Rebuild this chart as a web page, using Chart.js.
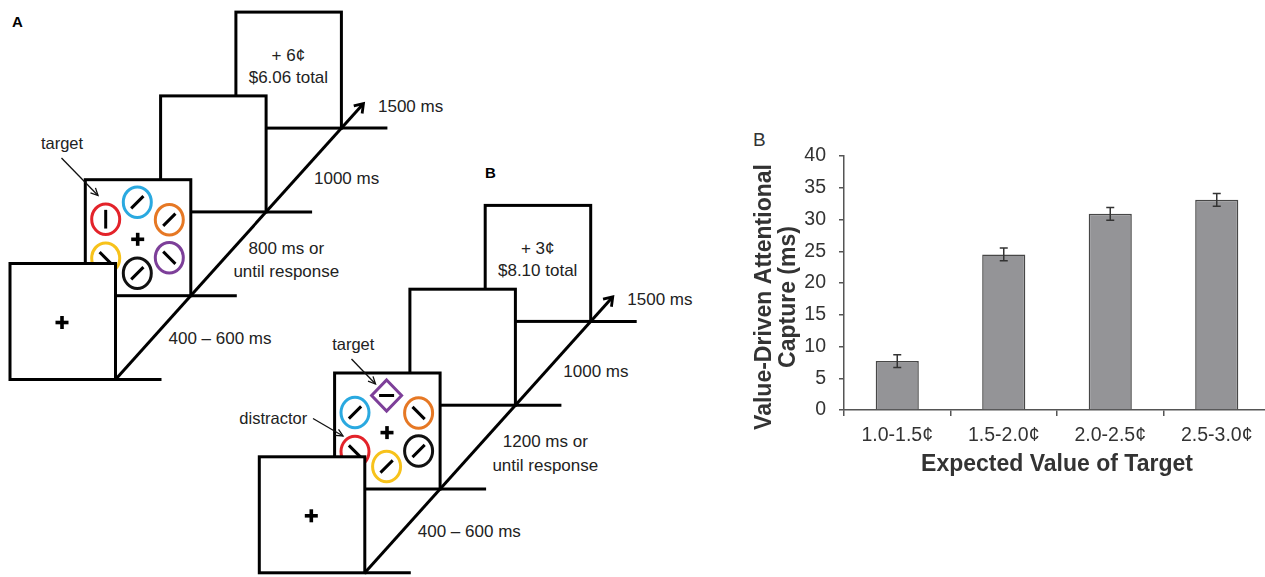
<!DOCTYPE html>
<html>
<head>
<meta charset="utf-8">
<script src="https://cdn.jsdelivr.net/npm/chart.js@4.4.1/dist/chart.umd.min.js"></script>
<style>
  html, body { margin: 0; padding: 0; background: #fff; width: 1265px; height: 577px; overflow: hidden; }
  #diagram { position: absolute; left: 0; top: 0; }
  #chart-wrapper { position: absolute; left: 740px; top: 110px; width: 540px; height: 390px; }
</style>
</head>
<body>
<svg id="diagram" width="1265" height="577"></svg>
<div id="chart-wrapper"><canvas id="captureChart"></canvas></div>
<script>
// chart data
const categories = ['1.0-1.5¢', '1.5-2.0¢', '2.0-2.5¢', '2.5-3.0¢'];
const captureMs = [7.7, 24.5, 30.9, 33.1];
const captureErr = [1.0, 1.0, 1.0, 1.0];
const yTickValues = [0, 5, 10, 15, 20, 25, 30, 35, 40];
const yTitleLines = ['Value-Driven Attentional', 'Capture (ms)'];
const xTitle = 'Expected Value of Target';

const FONT = '"Liberation Sans", Arial, sans-serif';

// ---------- trial diagram (panels A and B) ----------
const NS = 'http://www.w3.org/2000/svg';
const svg = document.getElementById('diagram');

function el(tag, attrs, parent) {
    const e = document.createElementNS(NS, tag);
    for (const k in attrs) e.setAttribute(k, attrs[k]);
    (parent || svg).appendChild(e);
    return e;
}

function label(parent, x, y, str, opts) {
    opts = opts || {};
    const t = el('text', {
        x: x, y: y,
        'font-family': FONT,
        'font-size': opts.size || 17,
        'font-weight': opts.bold ? 'bold' : 'normal',
        'text-anchor': opts.anchor || 'middle',
        'dominant-baseline': 'central',
        fill: opts.color || '#222'
    }, parent);
    t.textContent = str;
    return t;
}

function thinArrow(parent, x1, y1, x2, y2) {
    el('line', { x1: x1, y1: y1, x2: x2, y2: y2, stroke: '#111', 'stroke-width': 1.3 }, parent);
    const a = Math.atan2(y2 - y1, x2 - x1);
    const L = 8, s = 0.45;
    const p1 = [x2 - L * Math.cos(a - s), y2 - L * Math.sin(a - s)];
    const p2 = [x2 - L * Math.cos(a + s), y2 - L * Math.sin(a + s)];
    el('polyline', { points: `${p1} ${x2},${y2} ${p2}`, fill: 'none', stroke: '#111', 'stroke-width': 1.3 }, parent);
}

function cross(parent, cx, cy) {
    el('rect', { x: cx - 6.5, y: cy - 1.8, width: 13, height: 3.6, fill: '#000' }, parent);
    el('rect', { x: cx - 1.8, y: cy - 6.5, width: 3.6, height: 13, fill: '#000' }, parent);
}

const COLORS = { red: '#e3232a', blue: '#2aa9e0', orange: '#e67824', yellow: '#f7c21b', purple: '#7d3f99', black: '#111' };

function stimulus(parent, cx, cy, shape, color, bar) {
    if (shape === 'diamond') {
        el('polygon', { points: `${cx},${cy - 15.5} ${cx + 15},${cy} ${cx},${cy + 15.5} ${cx - 15},${cy}`,
            fill: 'none', stroke: COLORS[color], 'stroke-width': 3 }, parent);
    } else {
        el('ellipse', { cx: cx, cy: cy, rx: 14, ry: 15.3, fill: 'none', stroke: COLORS[color], 'stroke-width': 3 }, parent);
    }
    const h = 8.5;
    let d;
    if (bar === '|') d = [0, -h * 1.1, 0, h * 1.1];
    else if (bar === '/') d = [-h * 0.72, h * 0.72, h * 0.72, -h * 0.72];
    else if (bar === '\\') d = [-h * 0.72, -h * 0.72, h * 0.72, h * 0.72];
    else d = [-7.5, 0, 7.5, 0];
    el('line', { x1: cx + d[0], y1: cy + d[1], x2: cx + d[2], y2: cy + d[3], stroke: '#000', 'stroke-width': 3 }, parent);
}

const BOX_W = 105.5, BOX_H = 116;
const boxPos = [[235.9, 12.1], [160.6, 95.9], [85.3, 179.7], [10, 263.5]];
// stimulus slots relative to the search box
const slots = [[52, 22.5], [20.4, 39.5], [84, 40], [20.4, 78.5], [84, 78], [52, 93.5]];

function drawTrial(ox, oy, items, texts) {
    const g = el('g', { transform: `translate(${ox},${oy})` });
    boxPos.forEach(([bx, by], i) => {
        el('rect', { x: bx, y: by, width: BOX_W, height: BOX_H, fill: '#fff', stroke: '#000', 'stroke-width': 3 }, g);
        el('line', { x1: bx + BOX_W, y1: by + BOX_H, x2: bx + BOX_W + 46, y2: by + BOX_H, stroke: '#000', 'stroke-width': 3 }, g);
        if (i === 0) {
            label(g, bx + 52.5, by + 43, texts.gain);
            label(g, bx + 52.5, by + 65.5, texts.total);
        }
        if (i === 2) {
            items.forEach((it, k) => stimulus(g, bx + slots[k][0], by + slots[k][1], it[0], it[1], it[2]));
            cross(g, bx + 52.4, by + 59.6);
        }
        if (i === 3) cross(g, bx + 52, by + 59);
    });
    // time axis arrow
    const x0 = boxPos[3][0] + BOX_W, y0 = boxPos[3][1] + BOX_H;
    const x1 = boxPos[0][0] + BOX_W, y1 = boxPos[0][1] + BOX_H;
    const len = Math.hypot(x1 - x0, y1 - y0);
    const ux = (x1 - x0) / len, uy = (y1 - y0) / len;
    const tx = x1 + ux * 33, ty = y1 + uy * 33;
    el('line', { x1: x0, y1: y0, x2: tx - ux * 1.5, y2: ty - uy * 1.5, stroke: '#000', 'stroke-width': 3 }, g);
    const a = Math.atan2(uy, ux), L = 10, s = 0.6;
    el('polyline', {
        points: `${tx - L * Math.cos(a - s)},${ty - L * Math.sin(a - s)} ${tx},${ty} ${tx - L * Math.cos(a + s)},${ty - L * Math.sin(a + s)}`,
        fill: 'none', stroke: '#000', 'stroke-width': 2.8, 'stroke-linejoin': 'miter'
    }, g);
    label(g, 378, 106.5, '1500 ms', { anchor: 'start' });
    label(g, 314, 178.5, '1000 ms', { anchor: 'start' });
    label(g, texts.respX, 248.5, texts.resp);
    label(g, texts.respX, 271.8, 'until response');
    label(g, 220, 338.5, '400 – 600 ms');
    return g;
}

const gA = drawTrial(0, 0, [
    ['circle', 'blue', '/'], ['circle', 'red', '|'], ['circle', 'orange', '/'],
    ['circle', 'yellow', '\\'], ['circle', 'purple', '\\'], ['circle', 'black', '/']
], { gain: '+ 6¢', total: '$6.06 total', resp: '800 ms or', respX: 286.3 });
label(svg, 12, 21, 'A', { bold: true, size: 15, anchor: 'start', color: '#000' });
label(svg, 62, 142.7, 'target', { size: 16.5 });
thinArrow(svg, 61.5, 158, 98, 195.5);

// panel B sits behind panel A in paint order
const gB = drawTrial(249.3, 193.3, [
    ['diamond', 'purple', '-'], ['circle', 'blue', '/'], ['circle', 'orange', '\\'],
    ['circle', 'red', '\\'], ['circle', 'black', '/'], ['circle', 'yellow', '/']
], { gain: '+ 3¢', total: '$8.10 total', resp: '1200 ms or', respX: 296 });
svg.insertBefore(gB, gA);
label(svg, 485, 172, 'B', { bold: true, size: 15, anchor: 'start', color: '#000' });
label(svg, 353.3, 344.3, 'target', { size: 16.5 });
thinArrow(svg, 351.5, 359, 375.5, 384);
label(svg, 273.3, 417.7, 'distractor', { size: 16.5 });
thinArrow(svg, 313, 418.5, 343, 436);

// chart panel letter
label(svg, 753, 139, 'B', { size: 19, anchor: 'start', color: '#333' });

// ---------- bar chart ----------
const errorBars = {
    id: 'errorBars',
    afterDatasetsDraw(chart) {
        const { ctx, scales: { y } } = chart;
        const meta = chart.getDatasetMeta(0);
        ctx.save();
        ctx.strokeStyle = '#333';
        ctx.lineWidth = 1.5;
        meta.data.forEach((bar, i) => {
            const top = y.getPixelForValue(captureMs[i] + captureErr[i]);
            const bot = y.getPixelForValue(captureMs[i] - captureErr[i]);
            ctx.beginPath();
            ctx.moveTo(bar.x, top); ctx.lineTo(bar.x, bot);
            ctx.moveTo(bar.x - 4, top); ctx.lineTo(bar.x + 4, top);
            ctx.moveTo(bar.x - 4, bot); ctx.lineTo(bar.x + 4, bot);
            ctx.stroke();
        });
        ctx.restore();
    }
};

const yTitle = {
    id: 'yTitle',
    afterDraw(chart) {
        const { ctx, chartArea } = chart;
        const cy = (chartArea.top + chartArea.bottom) / 2 + 14;
        ctx.save();
        ctx.fillStyle = '#333';
        ctx.font = `bold 23px ${FONT}`;
        ctx.textAlign = 'center';
        ctx.textBaseline = 'middle';
        ctx.translate(25, cy);
        ctx.rotate(-Math.PI / 2);
        yTitleLines.forEach((line, i) => ctx.fillText(line, 0, i * 23.5));
        ctx.restore();
    }
};

const ctx = document.getElementById('captureChart').getContext('2d');
new Chart(ctx, {
    type: 'bar',
    data: {
        labels: categories,
        datasets: [{
            data: captureMs,
            backgroundColor: '#949497',
            borderColor: '#474747',
            borderWidth: 1.5,
            barPercentage: 0.405,
            categoryPercentage: 1
        }]
    },
    options: {
        responsive: true,
        maintainAspectRatio: false,
        animation: false,
        layout: { padding: { left: 0, top: 46, right: 10, bottom: 0 } },
        plugins: {
            legend: { display: false },
            tooltip: { enabled: false }
        },
        scales: {
            x: {
                grid: { drawOnChartArea: false, tickLength: 6, color: '#555', lineWidth: 1.5 },
                border: { color: '#555', width: 1.5 },
                ticks: { color: '#333', padding: 8, font: { family: FONT, size: 19.5 } },
                title: {
                    display: true,
                    text: xTitle,
                    color: '#333',
                    font: { family: FONT, size: 23, weight: 'bold' },
                    padding: { top: 4, bottom: 22 }
                },
                afterFit: s => { s.height = 90; }
            },
            y: {
                min: 0,
                max: 40,
                afterBuildTicks: s => { s.ticks = yTickValues.map(v => ({ value: v })); },
                grid: { drawOnChartArea: false, tickLength: 5, color: '#555', lineWidth: 1.5 },
                border: { color: '#555', width: 1.5 },
                ticks: { color: '#333', padding: 13, font: { family: FONT, size: 19.5 } },
                afterFit: s => { s.width = 104; }
            }
        }
    },
    plugins: [errorBars, yTitle]
});
</script>
</body>
</html>
